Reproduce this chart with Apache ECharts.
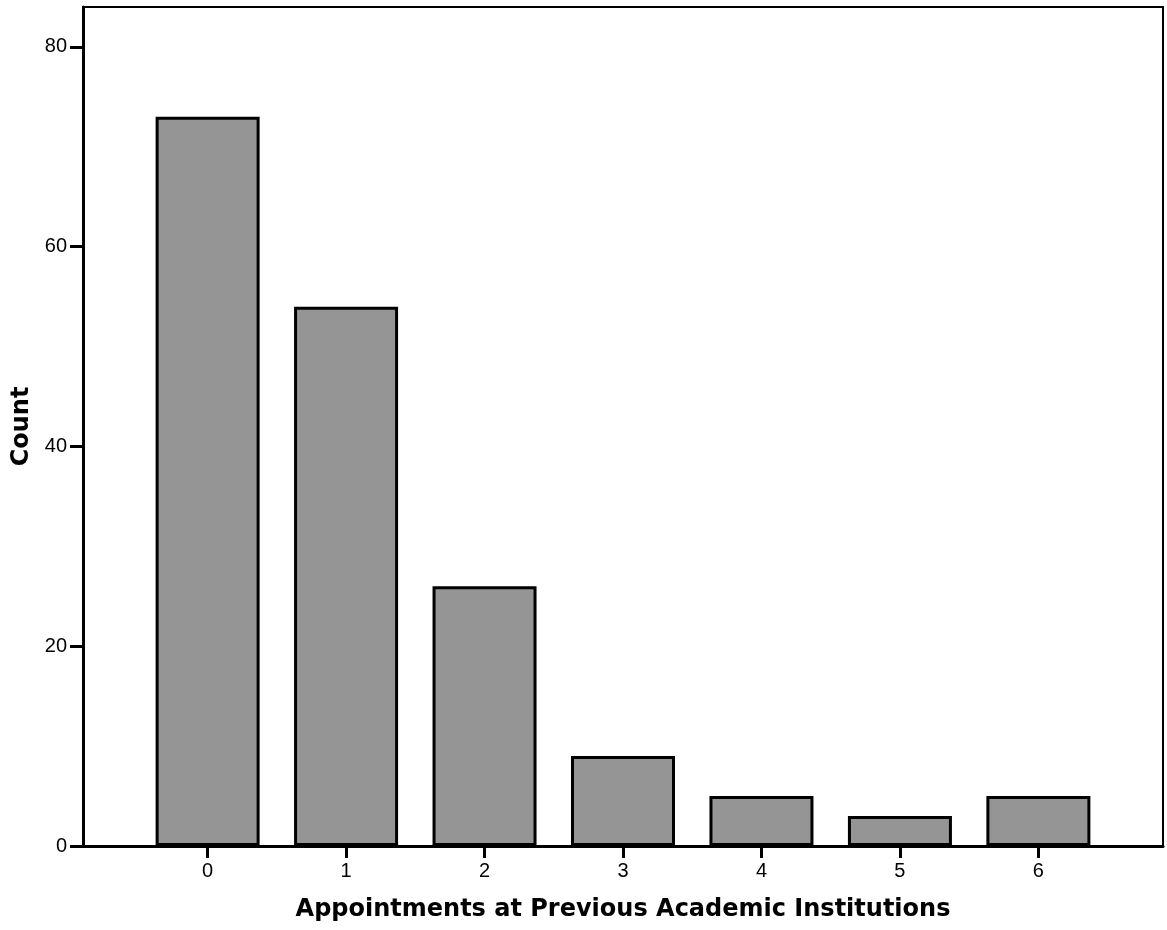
<!DOCTYPE html>
<html>
<head>
<meta charset="utf-8">
<script src="https://cdn.jsdelivr.net/npm/echarts@6/dist/echarts.min.js"></script>
<style>
  html, body { margin: 0; padding: 0; background: #fff; }
  #chart { width: 1167px; height: 930px; }
</style>
</head>
<body>
<div id="chart"></div>
<script>
// appointments (0..6) and their counts
var categories = [0, 1, 2, 3, 4, 5, 6];
var counts = [73, 54, 26, 9, 5, 3, 5];
var yTicks = [0, 20, 40, 60, 80];

var myChart = echarts.init(document.getElementById('chart'));

var option = {
    animation: false,
    textStyle: { fontFamily: 'Liberation Sans, Arial, sans-serif', color: '#000' },
    grid: {
        left: 83, right: 4, top: 7, bottom: 84,
        show: true,
        borderColor: '#000',
        borderWidth: 2
    },
    xAxis: {
        type: 'value',
        min: -0.9,
        max: 6.9,
        name: 'Appointments at Previous Academic Institutions',
        nameLocation: 'middle',
        nameGap: 52,
        nameTextStyle: { fontSize: 24, fontWeight: 'bold', color: '#000', fontFamily: 'DejaVu Sans' },
        splitLine: { show: false },
        axisLine: { show: true, onZero: false, lineStyle: { color: '#000', width: 3 } },
        axisTick: { show: true, length: 12, customValues: categories, lineStyle: { color: '#000', width: 3 } },
        axisLabel: { customValues: categories, margin: 15, fontSize: 20, color: '#000', fontFamily: 'Liberation Sans' }
    },
    yAxis: {
        type: 'value',
        min: 0,
        max: 84,
        name: 'Count',
        nameLocation: 'middle',
        nameGap: 48,
        nameTextStyle: { fontSize: 24, fontWeight: 'bold', color: '#000', fontFamily: 'DejaVu Sans' },
        splitLine: { show: false },
        axisLine: { show: true, onZero: false, lineStyle: { color: '#000', width: 3 } },
        axisTick: { show: true, length: 13, customValues: yTicks, lineStyle: { color: '#000', width: 3 } },
        axisLabel: { customValues: yTicks, margin: 16, fontSize: 20, color: '#000', fontFamily: 'Liberation Sans' }
    },
    series: [{
        type: 'bar',
        barWidth: 104,
        data: categories.map(function (c, i) { return [c, counts[i]]; }),
        itemStyle: {
            color: '#959595',
            borderColor: '#000',
            borderWidth: 3
        }
    }]
};

myChart.setOption(option);
</script>
</body>
</html>
